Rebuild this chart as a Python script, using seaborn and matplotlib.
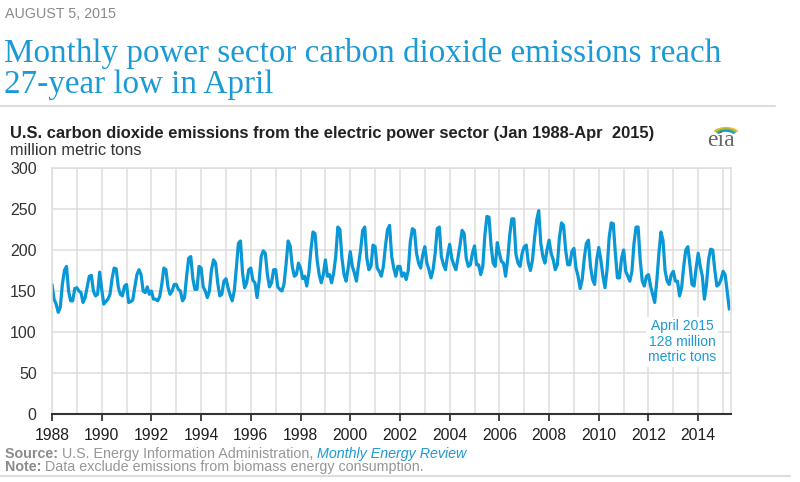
import numpy as np
import pandas as pd
import matplotlib
matplotlib.use("Agg")
import matplotlib.pyplot as plt
from matplotlib.lines import Line2D
import seaborn as sns

# ---------------- data (million metric tons, monthly Jan..Dec) ----------------
e1988 = [158, 140, 134, 124, 130, 158, 175, 180, 150, 138, 138, 153]
e1989 = [154, 150, 148, 136, 142, 155, 168, 169, 150, 144, 146, 173]
e1990 = [152, 134, 137, 140, 146, 165, 178, 177, 155, 146, 144, 156]
e1991 = [158, 136, 137, 139, 155, 170, 176, 170, 150, 148, 155, 146]
e1992 = [150, 140, 140, 138, 143, 158, 178, 176, 155, 146, 150, 158]
e1993 = [158, 152, 150, 138, 142, 168, 190, 192, 165, 152, 152, 180]
e1994 = [178, 155, 150, 142, 150, 176, 188, 184, 160, 144, 146, 162]
e1995 = [165, 154, 145, 138, 150, 178, 208, 211, 172, 154, 160, 176]
e1996 = [178, 163, 160, 142, 162, 192, 199, 196, 170, 155, 160, 176]
e1997 = [176, 155, 152, 150, 158, 182, 211, 205, 180, 168, 170, 184]
e1998 = [178, 165, 168, 156, 172, 200, 222, 220, 188, 170, 160, 170]
e1999 = [188, 168, 170, 160, 172, 192, 228, 225, 190, 170, 162, 178]
e2000 = [198, 180, 172, 162, 182, 200, 224, 228, 190, 176, 180, 206]
e2001 = [204, 178, 174, 168, 180, 205, 225, 230, 192, 178, 168, 180]
e2002 = [180, 168, 172, 164, 175, 210, 226, 224, 196, 184, 178, 194]
e2003 = [204, 184, 176, 166, 176, 196, 226, 228, 192, 182, 176, 194]
e2004 = [207, 190, 182, 176, 190, 206, 224, 220, 190, 180, 182, 196]
e2005 = [205, 182, 182, 170, 180, 218, 241, 240, 205, 184, 180, 209]
e2006 = [196, 186, 184, 168, 188, 218, 238, 238, 195, 184, 180, 196]
e2007 = [204, 206, 184, 175, 188, 215, 236, 248, 208, 192, 184, 200]
e2008 = [212, 196, 188, 176, 182, 215, 233, 230, 200, 182, 182, 198]
e2009 = [202, 178, 168, 153, 164, 190, 208, 212, 180, 164, 158, 188]
e2010 = [203, 188, 168, 154, 176, 215, 233, 232, 196, 166, 166, 190]
e2011 = [200, 174, 168, 162, 174, 208, 228, 228, 188, 162, 156, 168]
e2012 = [170, 156, 146, 136, 162, 195, 222, 212, 175, 162, 158, 170]
e2013 = [174, 162, 162, 144, 154, 180, 200, 204, 182, 158, 156, 178]
e2014 = [196, 180, 168, 140, 158, 188, 201, 200, 176, 156, 158, 164]
e2015 = [174, 170, 150, 128]

years = list(range(1988, 2016))
series = [e1988, e1989, e1990, e1991, e1992, e1993, e1994, e1995, e1996, e1997,
          e1998, e1999, e2000, e2001, e2002, e2003, e2004, e2005, e2006, e2007,
          e2008, e2009, e2010, e2011, e2012, e2013, e2014, e2015]

x_tick_years = list(range(1988, 2015, 2))
y_ticks = [0, 50, 100, 150, 200, 250, 300]

rows = []
for yr, vals in zip(years, series):
    for m, v in enumerate(vals):
        rows.append({"t": yr + m / 12.0, "co2": v})
df = pd.DataFrame(rows)

# ---------------- style ----------------
BLUE = "#0a97d5"
TITLE_BLUE = "#1c9ad6"
W, H = 800, 482

sns.set_theme(style="white")
plt.rcParams['font.family'] = ['Liberation Sans', 'DejaVu Sans']

fig = plt.figure(figsize=(W / 100, H / 100), dpi=100)

def fx(px):
    return np.asarray(px) / W

def fy(py):
    return 1 - np.asarray(py) / H

ax = fig.add_axes([fx(52), fy(414), fx(731) - fx(52), fy(168) - fy(414)])
sns.lineplot(data=df, x="t", y="co2", ax=ax, color=BLUE, linewidth=2.3,
             solid_joinstyle="round", solid_capstyle="round")

ax.set_xlim(1988, 2015.32)
ax.set_ylim(0, 300)
ax.set_xticks(x_tick_years)
ax.set_xticks(years, minor=True)
ax.set_yticks(y_ticks)
ax.set_xticklabels([str(y) for y in x_tick_years])
ax.grid(which="both", color="#dedede", linewidth=1.1)
ax.set_axisbelow(True)
ax.set_xlabel("")
ax.set_ylabel("")
ax.tick_params(axis="x", which="major", bottom=True, length=5, width=1.3,
               color="#333333", direction="out", pad=5, labelsize=11.3,
               labelcolor="#1e1e1e")
ax.tick_params(axis="x", which="minor", bottom=False, length=0)
ax.tick_params(axis="y", length=0, pad=11, labelsize=11.5, labelcolor="#333333")
for s in ["left", "top", "right"]:
    ax.spines[s].set_color("#dedede")
    ax.spines[s].set_linewidth(1.1)
ax.spines["bottom"].set_color("#333333")
ax.spines["bottom"].set_linewidth(1.5)

# annotation for last point
ax.text(2013.35, 88, "April 2015\n128 million\nmetric tons", ha="center",
        va="center", color=TITLE_BLUE, fontsize=10, linespacing=1.15,
        bbox=dict(facecolor="white", edgecolor="none", pad=1.5))

# ---------------- header ----------------
fig.text(fx(5), fy(18), "AUGUST 5, 2015", fontsize=10.3, color="#8a8a8a",
         va="baseline")
fig.text(fx(4), fy(62), "Monthly power sector carbon dioxide emissions reach",
         fontsize=23.9, color=TITLE_BLUE, va="baseline",
         family=["Liberation Serif", "DejaVu Serif"])
fig.text(fx(4), fy(93), "27-year low in April", fontsize=23.9,
         color=TITLE_BLUE, va="baseline",
         family=["Liberation Serif", "DejaVu Serif"])
fig.add_artist(Line2D([fx(0), fx(775)], [fy(106), fy(106)],
                      transform=fig.transFigure, color="#dddddd", lw=1.5))

fig.text(fx(10), fy(138),
         "U.S. carbon dioxide emissions from the electric power sector (Jan 1988-Apr  2015)",
         fontsize=11.9, fontweight="bold", color="#222222", va="baseline")
fig.text(fx(10), fy(155), "million metric tons", fontsize=11.8,
         color="#333333", va="baseline")

# eia logo
fig.text(fx(721), fy(146), "eia", fontsize=17, color="#666666", ha="center",
         va="baseline", family=["Liberation Serif", "DejaVu Serif"])
theta = np.linspace(0.22 * np.pi, 0.78 * np.pi, 30)
for r, col, lw in [(13, "#f2b51e", 1.4), (11, "#7dbf3b", 1.4), (9, "#1c9ad6", 1.6)]:
    xs = 726 + r * np.cos(theta) * 1.1
    ys = 137 - r * np.sin(theta) * 0.7
    fig.add_artist(Line2D(fx(xs), fy(ys), transform=fig.transFigure,
                          color=col, lw=lw))

# ---------------- footer ----------------
fig.canvas.draw()
rend = fig.canvas.get_renderer()

def seq(parts, x0, ybase):
    x = x0
    for txt, kw in parts:
        t = fig.text(fx(x), fy(ybase), txt, va="baseline", fontsize=10.3, **kw)
        bb = t.get_window_extent(renderer=rend)
        x = bb.x1

seq([("Source: ", dict(fontweight="bold", color="#8c8c8c")),
     ("U.S. Energy Information Administration, ", dict(color="#969696")),
     ("Monthly Energy Review", dict(style="italic", color=TITLE_BLUE))],
    5, 458)
seq([("Note: ", dict(fontweight="bold", color="#8c8c8c")),
     ("Data exclude emissions from biomass energy consumption.",
      dict(color="#969696"))],
    5, 471)
fig.add_artist(Line2D([fx(0), fx(790)], [fy(476), fy(476)],
                      transform=fig.transFigure, color="#dddddd", lw=1.5))

fig.savefig("out.png", dpi=100, facecolor="white")
